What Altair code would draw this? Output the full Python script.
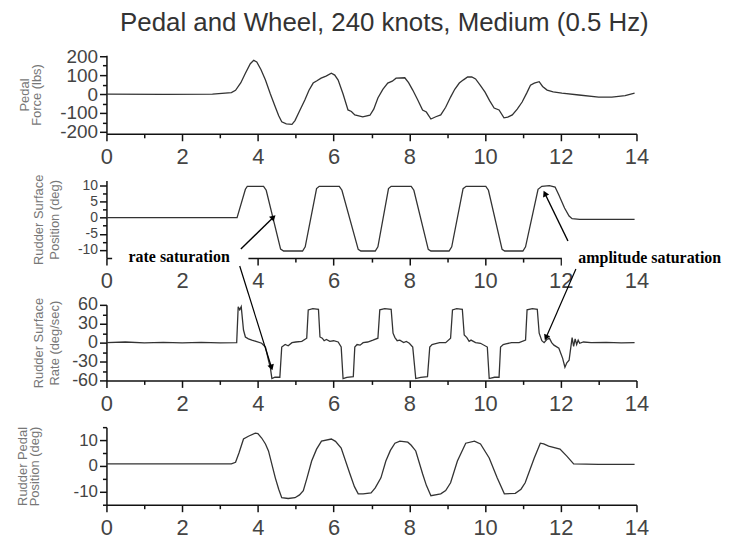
import math
import altair as alt
import pandas as pd

TITLE = "Pedal and Wheel, 240 knots, Medium (0.5 Hz)"

# ---- Panel 1: pedal force (lbs)
T_FORCE = [0, 1.5, 2.8, 3.3, 3.41, 3.55, 3.67, 3.8, 3.89, 3.97, 4.08, 4.2, 4.33, 4.46, 4.55, 4.63, 4.75, 4.9, 4.98,
           5.1, 5.24, 5.35, 5.46, 5.56, 5.67, 5.8, 5.94, 6.03, 6.12, 6.25, 6.38, 6.47, 6.56, 6.77, 6.96, 7.06, 7.17,
           7.3, 7.43, 7.55, 7.65, 7.88, 7.98, 8.09, 8.22, 8.35, 8.45, 8.57, 8.7, 8.83, 8.96, 9.09, 9.2, 9.32, 9.43,
           9.54, 9.65, 9.75, 9.88, 10.0, 10.12, 10.24, 10.37, 10.5, 10.6, 10.72, 10.85, 10.98, 11.1, 11.2, 11.3,
           11.43, 11.52, 11.64, 11.8, 12.03, 12.48, 13.0, 13.35, 13.7, 13.95]
V_FORCE = [0, -2, 0, 8, 20, 60, 110, 160, 178, 170, 130, 74, 0, -68, -115, -147, -158, -160, -140,
           -90, -32, 20, 58, 70, 84, 95, 110, 100, 74, 0, -84, -92, -110, -121, -112, -80, -21,
           25, 58, 68, 84, 86, 60, 21, -30, -84, -95, -132, -120, -110, -70, -16, 25, 58, 75,
           90, 90, 80, 45, 10, -35, -74, -84, -126, -122, -110, -80, -42, 5, 47, 58,
           65, 40, 21, 12, 5, -5, -16, -16, -8, 5]

# ---- Panel 2: rudder surface position (deg)
T_POS = [0, 3.45, 3.67, 3.72, 4.15, 4.22, 4.6, 4.68, 5.18, 5.25, 5.55, 5.62, 6.15, 6.22, 6.65, 6.72, 7.1, 7.17,
         7.45, 7.52, 8.05, 8.12, 8.5, 8.57, 9.05, 9.12, 9.42, 9.5, 10.02, 10.09, 10.45, 10.52, 11.0, 11.07,
         11.4, 11.5, 11.7, 11.85, 11.95, 12.1, 12.22, 12.3, 12.5, 13.95]
V_POS = [0, 0, 8.8, 9.7, 9.7, 8.5, -9.7, -10.3, -10.3, -9, 9, 9.7, 9.7, 8.5, -9.8, -10.3, -10.3, -9,
         9, 9.7, 9.7, 8.5, -9.8, -10.3, -10.3, -9, 9, 9.7, 9.7, 8.5, -9.8, -10.3, -10.3, -9,
         8.8, 9.7, 9.9, 9.5, 7, 3, 0.5, -0.3, -0.5, -0.5]

# ---- Panel 3: rudder surface rate (deg/sec)
T_RATE = [0, 0.5, 1.0, 1.5, 2.0, 2.5, 3.0, 3.44, 3.48, 3.52, 3.56, 3.62, 3.67, 3.75, 3.84, 3.95, 4.1, 4.2, 4.28,
          4.33, 4.37, 4.45, 4.58, 4.63, 4.72, 4.8, 4.9, 5.0, 5.16, 5.29, 5.33, 5.45, 5.6, 5.64, 5.7, 5.75, 5.81,
          5.9, 6.0, 6.12, 6.2, 6.25, 6.35, 6.52, 6.56, 6.62, 6.7, 6.78, 6.9, 7.04, 7.17, 7.22, 7.35, 7.52, 7.57,
          7.62, 7.68, 7.75, 7.85, 7.92, 8.0, 8.09, 8.17, 8.3, 8.48, 8.54, 8.6, 8.67, 8.8, 8.96, 9.09, 9.14, 9.25,
          9.4, 9.45, 9.52, 9.58, 9.63, 9.75, 9.88, 10.06, 10.11, 10.25, 10.37, 10.41, 10.48, 10.55, 10.7, 10.9,
          11.07, 11.11, 11.25, 11.38, 11.43, 11.5, 11.56, 11.63, 11.7, 11.76, 11.82, 11.95, 12.05, 12.11, 12.16,
          12.22, 12.26, 12.3, 12.34, 12.38, 12.42, 12.46, 12.5, 12.6, 12.8, 13.2, 13.6, 13.95]
V_RATE = [0, 1, -0.5, 0.5, -0.5, 0.5, -0.5, 0, 57, 52, 57, 20, 9, 6, 4, 2, -1, -7, -28,
          -40, -57, -55, -55, -7, -3, -5, 0, 1, 2, 7, 52, 54, 53, 9, 7, 3, 5,
          2, 3, 1, -7, -57, -55, -54, -7, -3, -4, 0, 1, 4, 7, 52, 54, 53, 15,
          8, 3, 4, 0, 2, -1, -7, -57, -55, -54, -7, -3, -2, 0, 0, 7, 52, 54,
          53, 12, 8, 2, 4, 0, -1, -7, -57, -55, -55, -7, -3, -2, 0, 0,
          4, 52, 54, 53, 15, 3, 0, 5, 7, 0, -4, -9, -25, -39, -32,
          -28, -10, 8, -6, 6, -3, 4, -1, 1, 0, 0.5, -0.5, 0]

# ---- Panel 4: rudder pedal position (deg)
T_PEDAL = [0, 3.3, 3.41, 3.5, 3.62, 3.75, 3.93, 4.0, 4.1, 4.2, 4.28, 4.46, 4.55, 4.63, 4.8, 4.98, 5.1, 5.2, 5.3,
           5.42, 5.55, 5.68, 5.94, 6.05, 6.2, 6.43, 6.55, 6.65, 6.78, 6.99, 7.1, 7.25, 7.38, 7.5, 7.62, 7.75, 7.96,
           8.05, 8.17, 8.35, 8.45, 8.57, 8.83, 8.96, 9.09, 9.27, 9.4, 9.49, 9.72, 9.88, 10.11, 10.32, 10.51, 10.8,
           10.95, 11.06, 11.3, 11.46, 11.55, 11.68, 11.98, 12.16, 12.34, 13.0, 13.95]
V_PEDAL = [0.8, 0.8, 1.4, 5, 10.4, 11.5, 12.7, 12.5, 10.8, 8.5, 5.8, -4.6, -9, -12.3, -12.6, -12.3, -11.2, -9.6, -4.5,
           1.9, 6.5, 9.6, 10.4, 9.5, 6.9, -3, -8, -10.8, -10.8, -10.4, -8.5, -4.6, 1.9, 6, 8.8, 9.6, 9.2,
           8, 5.8, -3, -7.5, -11.5, -10.8, -9.5, -6.5, 1.9, 6, 8.8, 9.6, 8.5, 3.1, -4.6, -10.8, -10.6,
           -9, -6.5, 3.1, 8.8, 8.5, 7.7, 6.5, 3.8, 0.8, 0.6, 0.6]

# ---- Annotations
NOTE_TEXT = ["rate saturation", "amplitude saturation"]
NOTE_T = [1.92, 14.35]
NOTE_V = [-12.15, -12.45]
COVER_T = [0.15, 12.03]
COVER_T2 = [3.75, 16.2]
COVER_V = [-9.8, -9.8]
COVER_V2 = [-15.0, -15.0]
# arrows in panel 2 (start -> head)
ARR2_T = [3.55, 12.19]
ARR2_V = [-9.7, -7.2]
ARR2_T2 = [4.41, 11.58]
ARR2_V2 = [0.15, 7.5]
# arrows reaching panel 3 (start -> head)
ARR3_T = [3.52, 12.40]
ARR3_V = [121.6, 116.9]
ARR3_T2 = [4.36, 11.61]
ARR3_V2 = [-39.5, 7.9]

W = 533
H = [79, 78, 76, 78]
YDOM = [[-210, 205], [-12.5, 11.5], [-60, 60], [-15, 15]]
YMAJOR = [[200, 100, 0, -100, -200], [10, 5, 0, -5, -10], [60, 30, 0, -30, -60], [10, 0, -10]]
YMINOR = [[150, 50, -50, -150], [7.5, 2.5, -2.5, -7.5], [45, 15, -15, -45], [15, 5, -5, -15]]
YLABEL_SIZE = [19, 14, 18, 17]
YTITLE = [["Pedal", "Force (lbs)"], ["Rudder Surface", "Position (deg)"],
          ["Rudder Surface", "Rate (deg/sec)"], ["Rudder Pedal", "Position (deg)"]]
YTITLE_X = [-82, -68, -68, -84]
YTITLE_LH = [12, 16, 16, 12]

LINE = "#333333"
XPX = W / 14.0


def head_angle(t1, v1, t2, v2, ypx):
    dx = (t2 - t1) * XPX
    dy = -(v2 - v1) * ypx
    return math.degrees(math.atan2(dx, -dy)) % 360


def encs(i):
    xaxis = alt.Axis(values=list(range(0, 15)),
                     labelExpr="datum.value % 2 == 0 ? datum.label : ''",
                     tickSize={"condition": {"test": "datum.value % 2 == 0", "value": 7}, "value": 4},
                     labelFontSize=22, labelPadding=6, title=None, grid=False,
                     labelFlush=False, labelOverlap=False)
    major = YMAJOR[i]
    test = "indexof(%s, datum.value) >= 0" % str(major)
    yaxis = alt.Axis(values=sorted(major + YMINOR[i]),
                     labelExpr=test + " ? '' + datum.value : ''",
                     tickSize={"condition": {"test": test, "value": 7}, "value": 4},
                     labelFontSize=YLABEL_SIZE[i], labelPadding=2, grid=False,
                     labelOverlap=False, labelFlush=False,
                     title=YTITLE[i], titleX=YTITLE_X[i], titleY=H[i] / 2, titleAngle=270,
                     titleAlign="center", titleBaseline="middle", titleFontSize=13,
                     titleFontWeight="normal", titleColor="#777777", titleLineHeight=YTITLE_LH[i],
                     titleFont="Liberation Sans")
    xs = alt.Scale(domain=[0, 14], nice=False)
    ys = alt.Scale(domain=YDOM[i], nice=False, zero=False)
    return xs, ys, xaxis, yaxis


def panel(i, t, v, extra=None):
    xs, ys, xaxis, yaxis = encs(i)
    df = pd.DataFrame({"t": t, "v": v})
    base = alt.Chart(df).mark_line(color=LINE, strokeWidth=1.3).encode(
        x=alt.X("t:Q", scale=xs, axis=xaxis),
        y=alt.Y("v:Q", scale=ys, axis=yaxis),
    )
    layers = [base]
    if extra:
        layers += extra(xs, ys, xaxis, yaxis)
    return alt.layer(*layers).properties(width=W, height=H[i])


def extra2(xs, ys, xaxis, yaxis):
    cov = pd.DataFrame({"t": COVER_T, "t2": COVER_T2, "v": COVER_V, "v2": COVER_V2})
    rect = alt.Chart(cov).mark_rect(color="white").encode(
        x=alt.X("t:Q", scale=xs, axis=xaxis), x2="t2:Q",
        y=alt.Y("v:Q", scale=ys, axis=yaxis), y2="v2:Q")
    txt = pd.DataFrame({"t": NOTE_T, "v": NOTE_V, "label": NOTE_TEXT})
    text = alt.Chart(txt).mark_text(font="Liberation Serif", fontWeight="bold", fontSize=16,
                                    color="black", align="center", baseline="middle").encode(
        x=alt.X("t:Q", scale=xs, axis=xaxis), y=alt.Y("v:Q", scale=ys, axis=yaxis), text="label:N")
    arr = pd.DataFrame({"t": ARR2_T, "v": ARR2_V, "t2": ARR2_T2, "v2": ARR2_V2})
    rule = alt.Chart(arr).mark_rule(color="black", strokeWidth=1.4).encode(
        x=alt.X("t:Q", scale=xs, axis=xaxis), x2="t2:Q",
        y=alt.Y("v:Q", scale=ys, axis=yaxis), y2="v2:Q")
    heads = []
    for k in range(len(ARR2_T)):
        ang = head_angle(ARR2_T[k], ARR2_V[k], ARR2_T2[k], ARR2_V2[k], H[1] / 24.0)
        hd = pd.DataFrame({"t": [ARR2_T2[k]], "v": [ARR2_V2[k]]})
        heads.append(alt.Chart(hd).mark_point(shape="triangle-up", filled=True, color="black",
                                              size=45, angle=ang, opacity=1).encode(
            x=alt.X("t:Q", scale=xs, axis=xaxis), y=alt.Y("v:Q", scale=ys, axis=yaxis)))
    return [rect, text, rule] + heads


def extra3(xs, ys, xaxis, yaxis):
    arr = pd.DataFrame({"t": ARR3_T, "v": ARR3_V, "t2": ARR3_T2, "v2": ARR3_V2})
    rule = alt.Chart(arr).mark_rule(color="black", strokeWidth=1.2).encode(
        x=alt.X("t:Q", scale=xs, axis=xaxis), x2="t2:Q",
        y=alt.Y("v:Q", scale=ys, axis=yaxis), y2="v2:Q")
    heads = []
    for k in range(len(ARR3_T)):
        ang = head_angle(ARR3_T[k], ARR3_V[k], ARR3_T2[k], ARR3_V2[k], H[2] / 120.0)
        hd = pd.DataFrame({"t": [ARR3_T2[k]], "v": [ARR3_V2[k]]})
        heads.append(alt.Chart(hd).mark_point(shape="triangle-up", filled=True, color="black",
                                              size=45, angle=ang, opacity=1).encode(
            x=alt.X("t:Q", scale=xs, axis=xaxis), y=alt.Y("v:Q", scale=ys, axis=yaxis)))
    return [rule] + heads


p1 = panel(0, T_FORCE, V_FORCE)
p2 = panel(1, T_POS, V_POS, extra2)
p3 = panel(2, T_RATE, V_RATE, extra3)
p4 = panel(3, T_PEDAL, V_PEDAL)

chart = alt.vconcat(p1, p2, p3, p4, spacing=47, bounds="flush").properties(
    title=alt.TitleParams(TITLE, fontSize=26, font="Liberation Sans", fontWeight="normal",
                          color="#333333", anchor="middle", frame="group", offset=11, dx=13),
    padding={"left": 9, "top": 0, "right": 0, "bottom": 5},
).configure_view(stroke=None).configure_axis(
    domainColor="#111111", domainWidth=1.5, tickColor="#111111", tickWidth=1.5,
    labelColor="#444444", labelFont="Liberation Sans",
)

chart.save("out.html", embed_options={"renderer": "svg", "actions": False})
